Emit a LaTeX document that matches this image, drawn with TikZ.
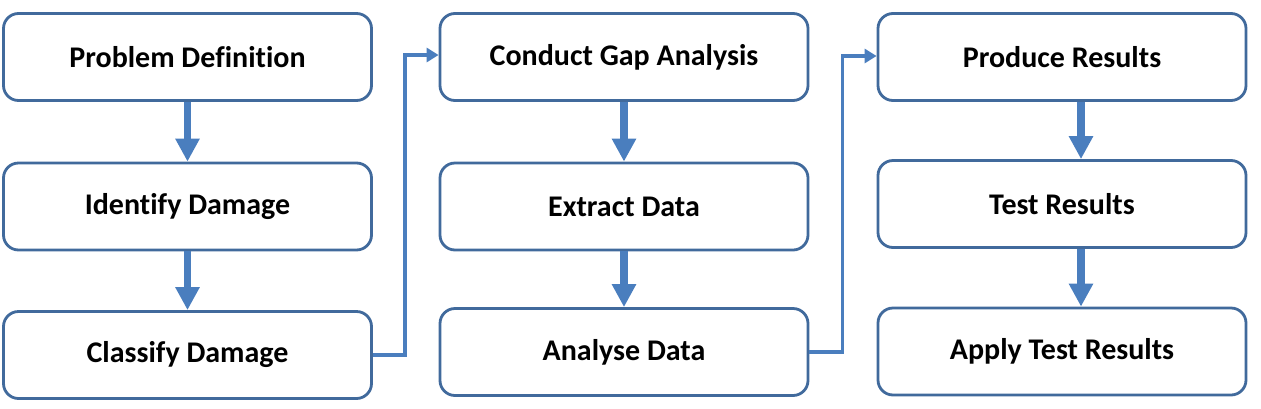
\documentclass[tikz,border=0pt]{standalone}
\usepackage{fontspec}
\setmainfont{Carlito}[Ligatures=NoCommon]
\usetikzlibrary{arrows.meta}
\definecolor{boxline}{RGB}{65,106,156}
\definecolor{arrowblue}{RGB}{74,126,190}
\tikzset{
  stepbox/.style={draw=boxline, line width=2.8pt, rounded corners=15pt, fill=white,
    minimum width=368pt, minimum height=87pt, inner sep=0pt,
    font=\fontsize{30}{35}\selectfont\bfseries, text=black},
  bigarrow/.style={draw=arrowblue, line width=7.5pt, -{Triangle[width=23pt,length=23pt]}},
  conn/.style={draw=arrowblue, line width=3.5pt, -{Triangle[width=14pt,length=12pt]}}
}
\begin{document}
\begin{tikzpicture}[x=1pt,y=-1pt]
\useasboundingbox (0,0) rectangle (1261,408);
% column 1
\node[stepbox] (pd) at (187.5,57) {Problem Definition};
\node[stepbox] (id) at (187.5,206.5) {Identify Damage};
\node[stepbox] (cd) at (187.5,355) {Classify Damage};
% column 2
\node[stepbox] (ga) at (624,57) {Conduct Gap Analysis};
\node[stepbox] (ed) at (624,206.5) {Extract Data};
\node[stepbox] (ad) at (624,352) {Analyse Data};
% column 3
\node[stepbox] (pr) at (1062,57) {Produce Results};
\node[stepbox] (tr) at (1062,204) {Test Results};
\node[stepbox] (at) at (1062,351.5) {Apply Test Results};
% vertical arrows
\draw[bigarrow] (pd.south) -- (id.north);
\draw[bigarrow] (id.south) -- (cd.north);
\draw[bigarrow] (ga.south) -- (ed.north);
\draw[bigarrow] (ed.south) -- (ad.north);
\draw[bigarrow] ([xshift=19pt]pr.south) -- ([xshift=19pt]tr.north);
\draw[bigarrow] ([xshift=19pt]tr.south) -- ([xshift=19pt]at.north);
% connectors between columns
\draw[conn] (cd.east) -- ++(32,0) |- ([yshift=2pt]ga.west);
\draw[conn] (ad.east) -- ++(33,0) |- ([yshift=1pt]pr.west);
\end{tikzpicture}
\end{document}
